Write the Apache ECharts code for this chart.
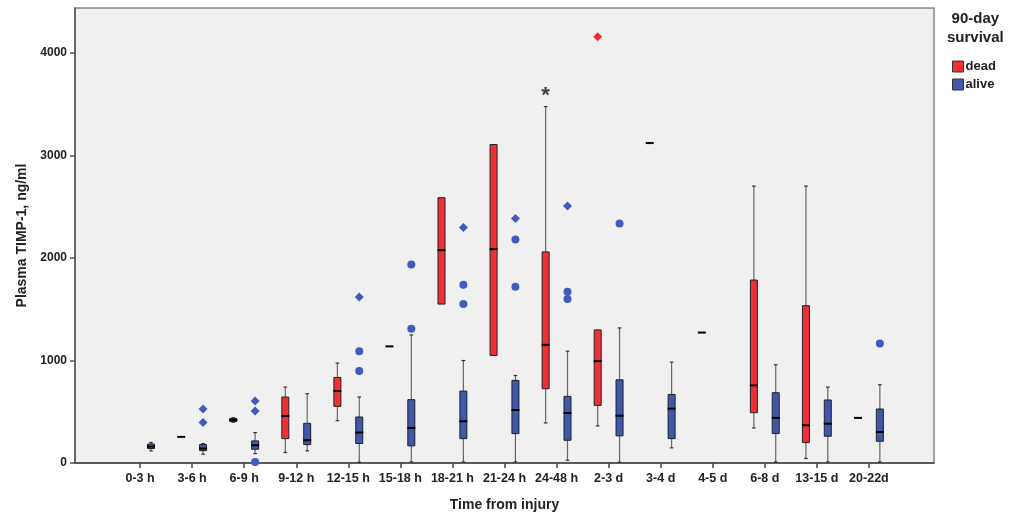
<!DOCTYPE html>
<html><head><meta charset="utf-8">
<script src="https://cdn.jsdelivr.net/npm/echarts@6/dist/echarts.min.js"></script>
<style>html,body{margin:0;padding:0;background:#fff}#c{width:1014px;height:517px}</style>
</head><body><div id="c"></div><script>
const categories = ['0-3 h','3-6 h','6-9 h','9-12 h','12-15 h','15-18 h','18-21 h','21-24 h','24-48 h','2-3 d','3-4 d','4-5 d','6-8 d','13-15 d','20-22d'];
// [min, q1, median, q3, max]; null = no patients in that group
const deadStats = [
  null,
  [255,255,255,255,255],
  [398,405,420,435,442],
  [102,238,459,644,741],
  [413,553,702,835,975],
  [1138,1138,1138,1138,1138],
  [1551,1551,2077,2589,2589],
  [1049,1049,2087,3108,3108],
  [391,725,1153,2060,3478],
  [362,562,994,1299,1299],
  [3122,3122,3122,3122,3122],
  [1273,1273,1273,1273,1273],
  [342,491,757,1785,2702],
  [44,199,368,1535,2702],
  [440,440,440,440,440]
];
const aliveStats = [
  [118,141,160,185,200],
  [86,120,141,180,190],
  [92,134,173,216,297],
  [119,180,222,387,676],
  [8,190,297,449,644],
  [10,167,342,618,1250],
  [10,238,407,702,1000],
  [10,287,517,806,854],
  [27,222,488,650,1091],
  [8,265,462,812,1318],
  [148,238,530,669,984],
  null,
  [10,287,440,686,958],
  [10,261,384,615,741],
  [10,212,303,527,764]
];
// outliers: [category index, value]
const aliveOutliers = [[2,10],[4,897],[4,1091],[5,1311],[5,1938],[6,1739],[6,1551],[7,2181],[7,1720],[8,1671],[8,1600],[9,2336],[14,1166]];
const aliveExtremes = [[1,527],[1,394],[2,605],[2,508],[4,1620],[6,2298],[7,2385],[8,2508]];
const deadExtremes = [[9,4160]];
const deadAnnotations = [[8,3580,'*']];
const yTicks = [0,1000,2000,3000,4000];

const RED = '#ef2f35', BLUE = '#3d58ad', OUT_BLUE = '#3f5cbd';
const OFFSET = 0.21;
const FONT = 'Liberation Sans, Arial, sans-serif';

function boxSeries(name, stats, side, color) {
  const data = [];
  stats.forEach((s, i) => { if (s) data.push([i + side * OFFSET].concat(s)); });
  return {
    type: 'custom', name: name, z: 3,
    itemStyle: { color: color, borderColor: '#222', borderWidth: 1 },
    encode: { x: 0, y: [1, 2, 3, 4, 5] },
    data: data,
    renderItem: function (params, api) {
      const x = api.value(0);
      const p = k => api.coord([x, api.value(k)]);
      const pMin = p(1), pQ1 = p(2), pMed = p(3), pQ3 = p(4), pMax = p(5);
      const cx = pMed[0], hw = 3.5, cw = 1.8;
      const ch = [];
      const wl = { stroke: '#666', lineWidth: 1.2 };
      const cap = { stroke: '#333', lineWidth: 1.2 };
      if (pQ3[1] - pMax[1] > 0.5) {
        ch.push({ type: 'line', shape: { x1: cx, y1: pQ3[1], x2: cx, y2: pMax[1] }, style: wl });
        ch.push({ type: 'line', shape: { x1: cx - cw, y1: pMax[1], x2: cx + cw, y2: pMax[1] }, style: cap });
      }
      if (pMin[1] - pQ1[1] > 0.5) {
        ch.push({ type: 'line', shape: { x1: cx, y1: pQ1[1], x2: cx, y2: pMin[1] }, style: wl });
        ch.push({ type: 'line', shape: { x1: cx - cw, y1: pMin[1], x2: cx + cw, y2: pMin[1] }, style: cap });
      }
      if (pQ1[1] - pQ3[1] > 0.5) {
        ch.push({ type: 'rect', shape: { x: cx - hw, y: pQ3[1], width: hw * 2, height: pQ1[1] - pQ3[1] },
          style: { fill: color, stroke: '#222', lineWidth: 1 } });
      }
      ch.push({ type: 'line', shape: { x1: cx - hw - 0.5, y1: pMed[1], x2: cx + hw + 0.5, y2: pMed[1] },
        style: { stroke: '#000', lineWidth: 2 } });
      return { type: 'group', children: ch };
    }
  };
}

function pts(arr, side) { return arr.map(d => [d[0] + side * OFFSET, d[1]]); }

const chart = echarts.init(document.getElementById('c'), null, { renderer: 'canvas' });
chart.setOption({
  animation: false,
  backgroundColor: '#fff',
  textStyle: { fontFamily: FONT },
  grid: { left: 75, right: 80, top: 8, bottom: 53, show: true, backgroundColor: '#f0f0f0', borderColor: '#888', borderWidth: 1.5 },
  graphic: [{
    type: 'text', left: 947, top: 9,
    style: { text: '90-day\nsurvival', font: 'bold 15px ' + FONT, fill: '#222', textAlign: 'center', lineHeight: 19 }
  }],
  legend: {
    orient: 'vertical', left: 947, top: 55, itemWidth: 11, itemHeight: 11, itemGap: 5,
    icon: 'rect',
    itemStyle: { borderColor: '#333', borderWidth: 1 },
    textStyle: { fontFamily: FONT, fontWeight: 'bold', fontSize: 13, color: '#222', padding: [0, 0, 0, -3] },
    data: ['dead', 'alive']
  },
  xAxis: {
    type: 'value', min: -1.25, max: 15.25,
    name: 'Time from injury', nameLocation: 'middle', nameGap: 35,
    nameTextStyle: { fontFamily: FONT, fontWeight: 'bold', fontSize: 14, color: '#222' },
    splitLine: { show: false },
    axisLine: { show: true, onZero: false, lineStyle: { color: '#444', width: 1.5 } },
    axisTick: { show: true, length: 5, lineStyle: { color: '#444', width: 1.5 }, customValues: categories.map((c, i) => i) },
    axisLabel: { margin: 9, fontFamily: FONT, fontWeight: 'bold', fontSize: 12.5, color: '#222',
      customValues: categories.map((c, i) => i), formatter: v => categories[Math.round(v)] }
  },
  yAxis: {
    type: 'value', min: 0, max: 4440,
    name: 'Plasma TIMP-1, ng/ml', nameLocation: 'middle', nameGap: 46,
    nameTextStyle: { fontFamily: FONT, fontWeight: 'bold', fontSize: 14, color: '#222' },
    splitLine: { show: false },
    axisLine: { show: true, onZero: false, lineStyle: { color: '#555', width: 1.5 } },
    axisTick: { show: true, length: 5, lineStyle: { color: '#555', width: 1.5 }, customValues: yTicks },
    axisLabel: { margin: 8, fontFamily: FONT, fontWeight: 'bold', fontSize: 12, color: '#222',
      customValues: yTicks, formatter: v => String(v) }
  },
  series: [
    boxSeries('dead', deadStats, -1, RED),
    boxSeries('alive', aliveStats, 1, BLUE),
    { type: 'scatter', name: 'alive', symbol: 'circle', symbolSize: 8, z: 4,
      itemStyle: { color: OUT_BLUE, opacity: 1 }, data: pts(aliveOutliers, 1) },
    { type: 'scatter', name: 'alive', symbol: 'diamond', symbolSize: 9, z: 4,
      itemStyle: { color: OUT_BLUE, opacity: 1 }, data: pts(aliveExtremes, 1) },
    { type: 'scatter', name: 'dead', symbol: 'diamond', symbolSize: 9, z: 4,
      itemStyle: { color: RED, opacity: 1 }, data: pts(deadExtremes, -1) },
    { type: 'scatter', symbolSize: 0, z: 5, silent: true,
      data: deadAnnotations.map(d => ({ value: [d[0] - OFFSET, d[1]], mark: d[2] })),
      label: { show: true, position: 'inside', formatter: p => p.data.mark,
        fontFamily: FONT, fontWeight: 'bold', fontSize: 22, color: '#111' } }
  ]
});
</script></body></html>
